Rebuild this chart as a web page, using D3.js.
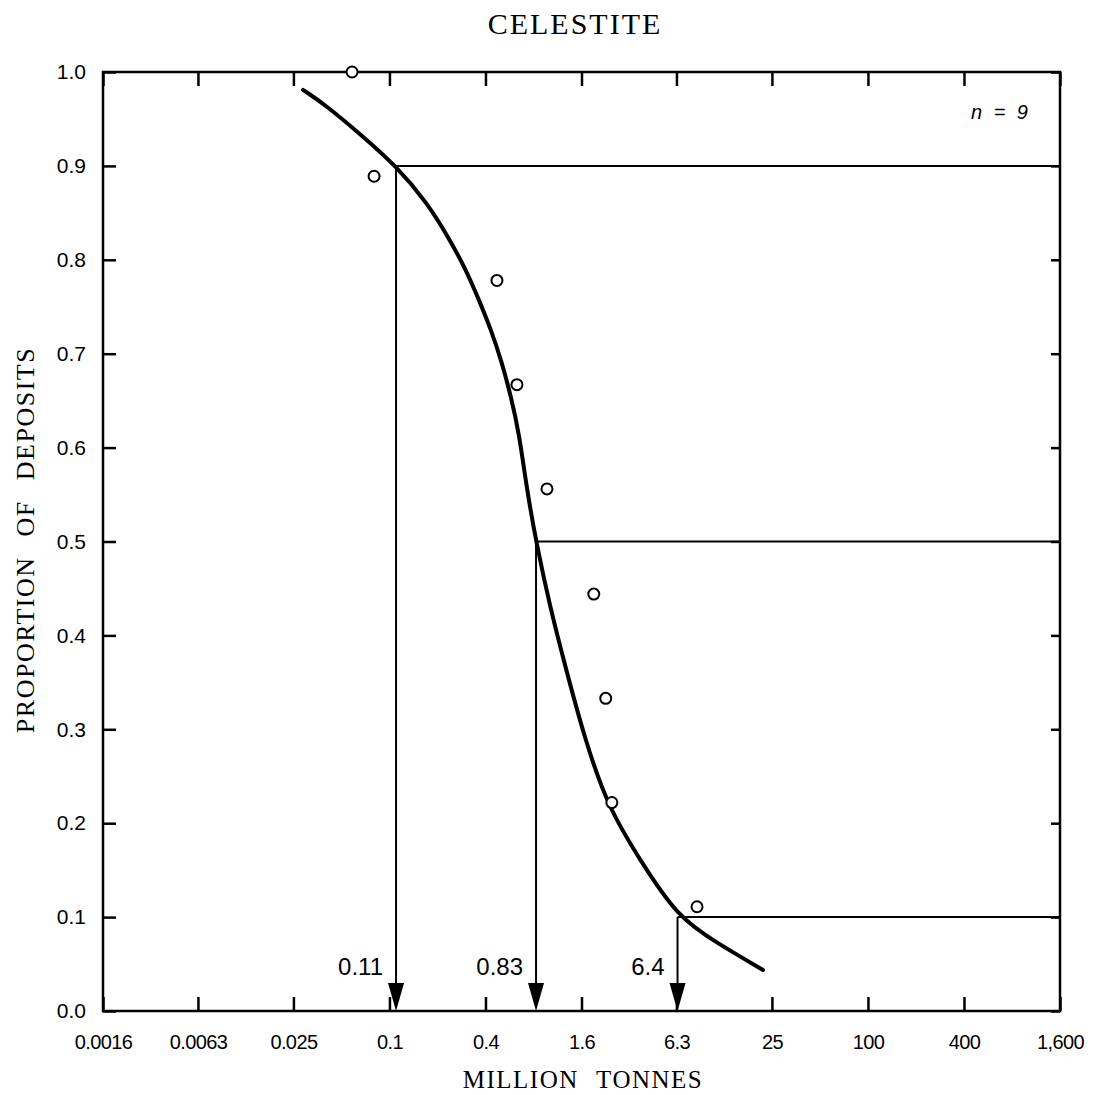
<!DOCTYPE html>
<html>
<head>
<meta charset="utf-8">
<script src="https://cdn.jsdelivr.net/npm/d3@7"></script>
<style>
  body { margin: 0; background: #fff; }
  .tick text { font-family: "Liberation Sans", Arial, sans-serif; }
</style>
</head>
<body>
<svg id="chart" width="1095" height="1095"></svg>
<script>
// tick values and their printed labels
const xTicks = [0.0016, 0.0063, 0.025, 0.1, 0.4, 1.6, 6.3, 25, 100, 400, 1600];
const xTickLabels = ["0.0016", "0.0063", "0.025", "0.1", "0.4", "1.6", "6.3", "25", "100", "400", "1,600"];
const yTicks = [0, 0.1, 0.2, 0.3, 0.4, 0.5, 0.6, 0.7, 0.8, 0.9, 1.0];
const yTickLabels = ["0.0", "0.1", "0.2", "0.3", "0.4", "0.5", "0.6", "0.7", "0.8", "0.9", "1.0"];

// deposits (open circles), million tonnes vs proportion
const depositTonnage = [0.0583, 0.0801, 0.472, 0.630, 0.972, 1.91, 2.27, 2.48, 8.48];
const depositProportion = [1.0, 0.889, 0.778, 0.667, 0.556, 0.444, 0.333, 0.222, 0.111];

// smoothed fitted curve
const curveTonnage = [0.0287, 0.0394, 0.0673, 0.11, 0.172, 0.233, 0.302, 0.370, 0.433, 0.508, 0.578, 0.649, 0.728, 0.83, 1.016, 1.298, 1.683, 2.346, 3.72, 6.4, 11.3, 21.97];
const curveProportion = [0.981, 0.9654, 0.9323, 0.9, 0.861, 0.8247, 0.7896, 0.7544, 0.7256, 0.6905, 0.6542, 0.6159, 0.5551, 0.5, 0.430, 0.360, 0.289, 0.217, 0.161, 0.1, 0.0725, 0.0437];

// 90th, 50th, 10th percentiles
const quantileTonnage = [0.11, 0.83, 6.4];
const quantileProportion = [0.9, 0.5, 0.1];
const quantileLabels = ["0.11", "0.83", "6.4"];

const plotLeft = 103, plotRight = 1060, plotTop = 72, plotBottom = 1011;

const svg = d3.select('#chart');

const xscale = d3.scaleLog()
  .domain([0.0016, 1600])
  .range([plotLeft, plotRight]);

const yscale = d3.scaleLinear()
  .domain([0, 1])
  .range([plotBottom, plotTop]);

// title
svg.append('text')
  .text('CELESTITE')
  .attr('x', 575)
  .attr('y', 34)
  .attr('text-anchor', 'middle')
  .style('font-family', '"Liberation Serif", "Times New Roman", serif')
  .style('font-size', '30px')
  .style('letter-spacing', '2px')

// axes, ticks pointing inward
const bottomAxis = d3.axisBottom(xscale)
  .tickValues(xTicks)
  .tickFormat((d, i) => xTickLabels[i])
  .tickSizeInner(-14)
  .tickSizeOuter(0)
  .tickPadding(24);

svg.append('g')
  .attr('transform', `translate(0, ${plotBottom})`)
  .call(bottomAxis)
  .call(g => g.selectAll('text').style('font-size', '20px').style('letter-spacing', '-0.6px'));

const topAxis = d3.axisTop(xscale)
  .tickValues(xTicks)
  .tickFormat('')
  .tickSizeInner(-14)
  .tickSizeOuter(0);

svg.append('g')
  .attr('transform', `translate(0, ${plotTop})`)
  .call(topAxis);

const leftAxis = d3.axisLeft(yscale)
  .tickValues(yTicks)
  .tickFormat((d, i) => yTickLabels[i])
  .tickSizeInner(-13)
  .tickSizeOuter(0)
  .tickPadding(17);

svg.append('g')
  .attr('transform', `translate(${plotLeft}, 0)`)
  .call(leftAxis)
  .call(g => g.selectAll('text').style('font-size', '21px'));

const rightAxis = d3.axisRight(yscale)
  .tickValues(yTicks)
  .tickFormat('')
  .tickSizeInner(-9)
  .tickSizeOuter(0);

svg.append('g')
  .attr('transform', `translate(${plotRight}, 0)`)
  .call(rightAxis);

svg.selectAll('.domain').remove();
svg.selectAll('.tick line').attr('stroke', '#000').attr('stroke-width', 2.5);

// frame
svg.append('rect')
  .attr('x', plotLeft)
  .attr('y', plotTop)
  .attr('width', plotRight - plotLeft)
  .attr('height', plotBottom - plotTop)
  .attr('fill', 'none')
  .attr('stroke', '#000')
  .attr('stroke-width', 2.5);

// axis titles
svg.append('text')
  .text('MILLION TONNES')
  .attr('x', 583)
  .attr('y', 1088)
  .attr('text-anchor', 'middle')
  .style('font-family', '"Liberation Serif", "Times New Roman", serif')
  .style('font-size', '25px')
  .style('letter-spacing', '1.5px')
  .style('word-spacing', '10px')

svg.append('text')
  .text('PROPORTION OF DEPOSITS')
  .attr('transform', `translate(34, 540) rotate(-90)`)
  .attr('text-anchor', 'middle')
  .style('font-family', '"Liberation Serif", "Times New Roman", serif')
  .style('font-size', '26px')
  .style('letter-spacing', '1.5px')
  .style('word-spacing', '12px')

// n label
svg.append('text')
  .text('n = 9')
  .attr('x', 1028)
  .attr('y', 119)
  .attr('text-anchor', 'end')
  .style('font-family', '"Liberation Sans", Arial, sans-serif')
  .style('font-style', 'italic')
  .style('font-size', '20px')
  .style('word-spacing', '6px')

// percentile guide lines
const quantiles = quantileTonnage.map((t, i) => ({ t, p: quantileProportion[i], label: quantileLabels[i] }));

const guides = svg.append('g');

guides.selectAll('line.h')
  .data(quantiles)
  .enter()
  .append('line')
  .attr('class', 'h')
  .attr('x1', d => xscale(d.t))
  .attr('x2', plotRight)
  .attr('y1', d => yscale(d.p))
  .attr('y2', d => yscale(d.p))
  .attr('stroke', '#000')
  .attr('stroke-width', 2);

guides.selectAll('line.v')
  .data(quantiles)
  .enter()
  .append('line')
  .attr('class', 'v')
  .attr('x1', d => xscale(d.t))
  .attr('x2', d => xscale(d.t))
  .attr('y1', d => yscale(d.p))
  .attr('y2', plotBottom - 20)
  .attr('stroke', '#000')
  .attr('stroke-width', 2);

// arrow heads
guides.selectAll('path')
  .data(quantiles)
  .enter()
  .append('path')
  .attr('d', d => {
    const x = xscale(d.t);
    return `M${x - 8},${plotBottom - 28}L${x + 8},${plotBottom - 28}L${x},${plotBottom}Z`;
  })
  .attr('fill', '#000');

guides.selectAll('text')
  .data(quantiles)
  .enter()
  .append('text')
  .text(d => d.label)
  .attr('x', d => xscale(d.t) - 13)
  .attr('y', plotBottom - 36)
  .attr('text-anchor', 'end')
  .style('font-family', '"Liberation Sans", Arial, sans-serif')
  .style('font-size', '24px')

// fitted curve
const curveData = curveTonnage.map((t, i) => [t, curveProportion[i]]);

const line = d3.line()
  .x(d => xscale(d[0]))
  .y(d => yscale(d[1]))
  .curve(d3.curveBasis);

svg.append('path')
  .datum(curveData)
  .attr('d', line)
  .attr('fill', 'none')
  .attr('stroke', '#000')
  .attr('stroke-width', 4)
  .attr('stroke-linecap', 'round');

// deposit points
const deposits = depositTonnage.map((t, i) => [t, depositProportion[i]]);

svg.append('g')
  .selectAll('circle')
  .data(deposits)
  .enter()
  .append('circle')
  .attr('cx', d => xscale(d[0]))
  .attr('cy', d => yscale(d[1]))
  .attr('r', 5.5)
  .attr('fill', '#fff')
  .attr('stroke', '#000')
  .attr('stroke-width', 2);
</script>
</body>
</html>
